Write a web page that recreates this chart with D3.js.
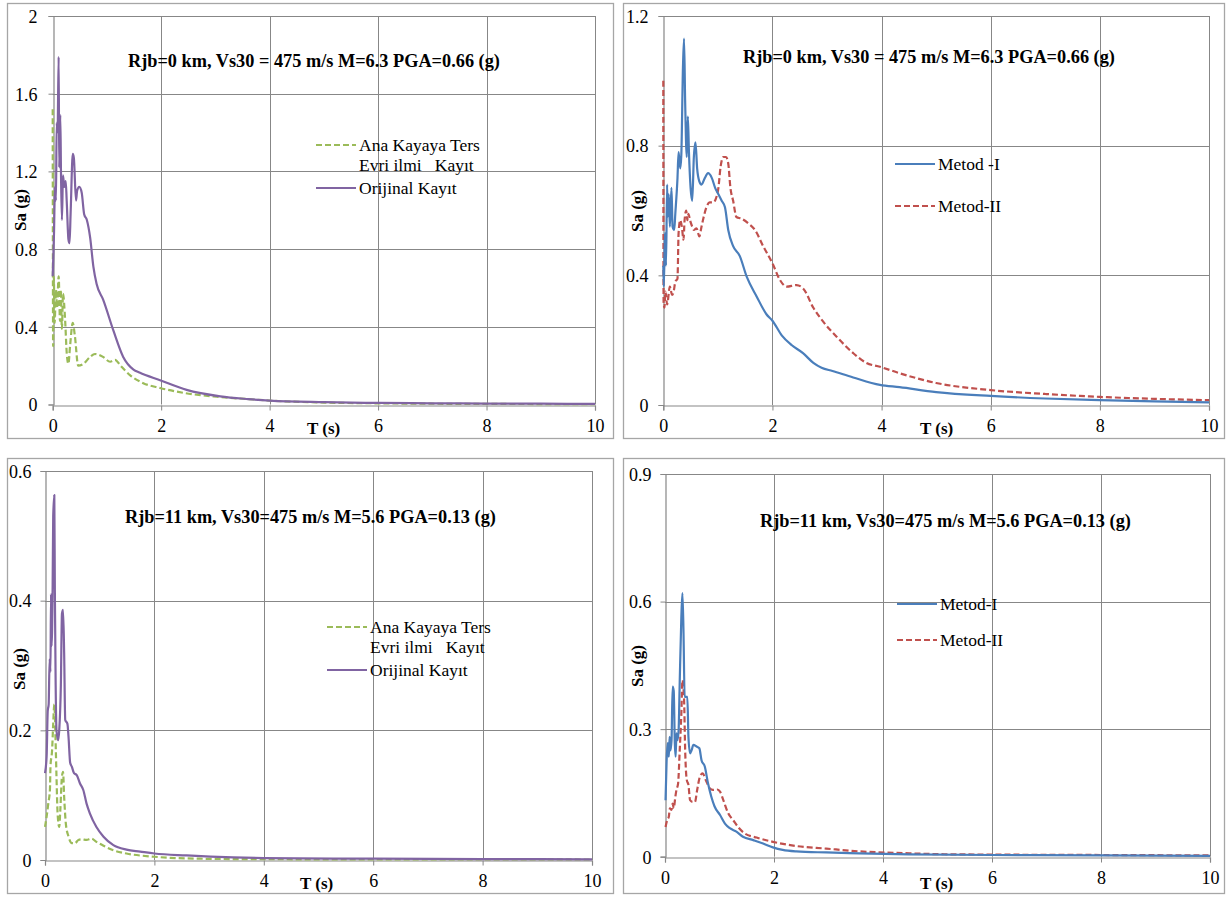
<!DOCTYPE html>
<html>
<head>
<meta charset="utf-8">
<script src="https://cdn.jsdelivr.net/npm/d3@7"></script>
<style>
  html, body { margin: 0; padding: 0; background: #fff; }
  svg { display: block; }
  svg text { font-family: "Liberation Serif", "Times New Roman", serif; }
</style>
</head>
<body>
<svg id="chart" width="1226" height="898"></svg>
<script>
const SERIF = "'Liberation Serif', 'Times New Roman', serif";

// Period axis ticks (s), shared by all four spectra
const periodTicks = [0, 2, 4, 6, 8, 10];

// Sa axis ticks (g) for each panel
const saTicksTopLeft = [0, 0.4, 0.8, 1.2, 1.6, 2];
const saTicksTopRight = [0, 0.4, 0.8, 1.2];
const saTicksBottomLeft = [0, 0.2, 0.4, 0.6];
const saTicksBottomRight = [0, 0.3, 0.6, 0.9];

// Panel titles
const titleNear = "Rjb=0 km, Vs30 = 475 m/s M=6.3 PGA=0.66 (g)";
const titleFar = "Rjb=11 km, Vs30=475 m/s M=5.6 PGA=0.13 (g)";

// Legend entries
const legendRecords = ["Ana Kayaya Ters|Evri ilmi   Kayıt", "Orijinal Kayıt"];
const legendMethodsNear = ["Metod -I", "Metod-II"];
const legendMethodsFar = ["Metod-I", "Metod-II"];

// Response spectra, [T (s), Sa (g)] — Rjb = 0 km event
const original0 = [[0,0.66],[0.024,0.88],[0.042,1.12],[0.06,1.05],[0.073,1.45],[0.09,1.40],[0.11,1.79],[0.12,1.22],[0.14,1.49],[0.153,1.19],[0.17,0.95],[0.19,1.18],[0.214,1.12],[0.24,1.15],[0.258,1.05],[0.29,0.85],[0.31,0.83],[0.33,0.98],[0.37,1.29],[0.39,1.27],[0.43,1.05],[0.45,1.10],[0.49,1.12],[0.535,1.09],[0.58,0.98],[0.63,0.95],[0.69,0.86],[0.75,0.71],[0.81,0.62],[0.93,0.54],[1.12,0.38],[1.30,0.245],[1.49,0.18],[1.6,0.165],[1.98,0.125],[2.47,0.075],[3.09,0.042],[3.6,0.028],[4,0.02],[5,0.012],[6,0.008],[7,0.006],[8,0.005],[9,0.004],[10,0.003]];
const deconvolved0 = [[0,1.52],[0.008,0.30],[0.02,0.66],[0.035,0.42],[0.06,0.59],[0.08,0.50],[0.11,0.66],[0.135,0.43],[0.15,0.59],[0.17,0.39],[0.19,0.57],[0.23,0.43],[0.26,0.26],[0.29,0.21],[0.32,0.30],[0.37,0.42],[0.41,0.35],[0.47,0.20],[0.57,0.21],[0.69,0.245],[0.78,0.26],[0.93,0.245],[1.06,0.22],[1.15,0.23],[1.25,0.20],[1.43,0.15],[1.67,0.11],[1.98,0.085],[2.41,0.06],[3.02,0.04],[3.6,0.028],[4,0.02],[5,0.01],[6,0.006],[7,0.004],[8,0.003],[10,0.002]];
const methodI0 = [[0,0.43],[0.01,0.365],[0.03,0.53],[0.05,0.43],[0.07,0.68],[0.08,0.58],[0.10,0.65],[0.12,0.55],[0.15,0.67],[0.17,0.55],[0.20,0.54],[0.22,0.59],[0.26,0.70],[0.28,0.78],[0.31,0.73],[0.33,0.77],[0.36,1.04],[0.38,1.13],[0.40,0.94],[0.43,0.765],[0.45,0.89],[0.47,0.78],[0.50,0.67],[0.53,0.63],[0.56,0.765],[0.59,0.81],[0.62,0.73],[0.66,0.69],[0.70,0.68],[0.76,0.70],[0.82,0.715],[0.89,0.70],[0.95,0.67],[1.01,0.65],[1.07,0.63],[1.13,0.61],[1.19,0.54],[1.28,0.49],[1.40,0.46],[1.53,0.395],[1.71,0.335],[1.89,0.28],[2.0,0.26],[2.17,0.215],[2.35,0.185],[2.56,0.16],[2.75,0.13],[2.90,0.115],[3.1,0.105],[3.48,0.085],[3.97,0.062],[4.33,0.055],[5,0.04],[6,0.028],[7,0.02],[8,0.015],[9,0.011],[10,0.008]];
const methodII0 = [[0,1.0],[0.005,0.32],[0.02,0.30],[0.04,0.35],[0.07,0.31],[0.12,0.365],[0.16,0.34],[0.19,0.35],[0.22,0.38],[0.26,0.39],[0.28,0.53],[0.31,0.57],[0.34,0.55],[0.37,0.51],[0.39,0.57],[0.42,0.60],[0.44,0.57],[0.46,0.59],[0.49,0.57],[0.53,0.55],[0.56,0.54],[0.61,0.545],[0.66,0.52],[0.70,0.55],[0.74,0.58],[0.79,0.61],[0.85,0.625],[0.92,0.625],[0.96,0.635],[1.01,0.67],[1.05,0.735],[1.10,0.765],[1.15,0.765],[1.19,0.745],[1.23,0.67],[1.28,0.63],[1.34,0.58],[1.43,0.575],[1.56,0.56],[1.68,0.54],[1.83,0.49],[2.0,0.437],[2.14,0.385],[2.26,0.365],[2.44,0.37],[2.56,0.36],[2.75,0.30],[2.93,0.257],[3.18,0.21],[3.48,0.16],[3.72,0.13],[3.97,0.118],[4.33,0.098],[5,0.068],[6,0.046],[7,0.034],[8,0.025],[9,0.019],[10,0.015]];

// Response spectra, [T (s), Sa (g)] — Rjb = 11 km event
const original11 = [[0,0.134],[0.03,0.16],[0.05,0.23],[0.067,0.24],[0.085,0.31],[0.10,0.29],[0.11,0.41],[0.12,0.33],[0.14,0.425],[0.15,0.53],[0.17,0.563],[0.18,0.416],[0.195,0.27],[0.21,0.20],[0.24,0.185],[0.26,0.20],[0.29,0.27],[0.31,0.38],[0.33,0.386],[0.35,0.32],[0.37,0.216],[0.41,0.21],[0.43,0.19],[0.46,0.15],[0.49,0.144],[0.53,0.134],[0.58,0.131],[0.64,0.118],[0.70,0.108],[0.76,0.087],[0.82,0.072],[0.94,0.051],[1.07,0.036],[1.25,0.023],[1.49,0.016],[1.74,0.013],[2.0,0.010],[2.59,0.007],[3.44,0.004],[4,0.003],[6,0.002],[8,0.0015],[10,0.001]];
const deconvolved11 = [[0,0.051],[0.03,0.067],[0.06,0.087],[0.09,0.108],[0.10,0.144],[0.13,0.17],[0.15,0.21],[0.17,0.24],[0.19,0.195],[0.21,0.129],[0.23,0.072],[0.26,0.051],[0.28,0.077],[0.31,0.129],[0.33,0.136],[0.35,0.098],[0.38,0.057],[0.43,0.036],[0.49,0.026],[0.55,0.026],[0.61,0.031],[0.67,0.032],[0.76,0.031],[0.85,0.033],[0.94,0.028],[1.07,0.022],[1.25,0.015],[1.49,0.010],[2.0,0.005],[2.83,0.002],[4,0.0012],[6,0.001],[10,0.0008]];
const methodI11 = [[0.01,0.133],[0.03,0.227],[0.05,0.267],[0.07,0.235],[0.085,0.282],[0.10,0.25],[0.12,0.274],[0.14,0.40],[0.16,0.39],[0.18,0.267],[0.195,0.235],[0.21,0.29],[0.23,0.274],[0.25,0.298],[0.27,0.41],[0.30,0.564],[0.32,0.62],[0.34,0.525],[0.36,0.376],[0.38,0.376],[0.41,0.376],[0.43,0.282],[0.46,0.243],[0.49,0.251],[0.52,0.263],[0.58,0.259],[0.63,0.255],[0.67,0.227],[0.73,0.212],[0.79,0.172],[0.85,0.141],[0.91,0.118],[1.01,0.098],[1.10,0.078],[1.19,0.067],[1.31,0.059],[1.43,0.047],[1.62,0.039],[1.80,0.031],[1.98,0.022],[2.16,0.016],[2.41,0.0125],[2.96,0.010],[3.57,0.008],[4.48,0.0055],[6,0.004],[8,0.003],[10,0.002]];
const methodII11 = [[0.01,0.07],[0.04,0.086],[0.07,0.094],[0.09,0.114],[0.12,0.11],[0.14,0.125],[0.16,0.114],[0.19,0.141],[0.21,0.157],[0.24,0.172],[0.27,0.25],[0.30,0.337],[0.32,0.415],[0.35,0.368],[0.37,0.25],[0.40,0.18],[0.43,0.169],[0.46,0.133],[0.51,0.129],[0.55,0.129],[0.59,0.157],[0.64,0.188],[0.69,0.196],[0.75,0.18],[0.82,0.161],[0.88,0.157],[0.96,0.158],[1.01,0.153],[1.07,0.133],[1.16,0.102],[1.25,0.086],[1.34,0.07],[1.46,0.055],[1.68,0.045],[1.98,0.035],[2.41,0.025],[2.96,0.019],[3.57,0.0125],[4.48,0.008],[5,0.006],[6,0.005],[8,0.004],[10,0.003]];

// Series styles
const styleDeconvolved = { color: "#9bbb59", dash: "6,3" };
const styleOriginal = { color: "#8064a2", dash: null };
const styleMethodI = { color: "#4a7ebb", dash: null };
const styleMethodII = { color: "#c0504d", dash: "6,3" };

const GRID = "#878787";
const FRAME = "#a6a6a6";

const panels = [
  {
    frame: [7, 3, 606, 435], plot: { x0: 52.7, x1: 595, y0: 404.5, y1: 16 },
    yMax: 2, yTicks: saTicksTopLeft, yLabelGap: 16,
    title: titleNear, titleX: 128, titleY: 67,
    saLabel: [20, 210], tLabel: [307, 434],
    series: [
      { data: deconvolved0, style: styleDeconvolved },
      { data: original0, style: styleOriginal }
    ],
    legend: { x: 316, rows: [
      { label: legendRecords[0], style: styleDeconvolved, y: 145 },
      { label: legendRecords[1], style: styleOriginal, y: 188 }
    ] }
  },
  {
    frame: [623, 3, 601, 435], plot: { x0: 663.3, x1: 1209, y0: 405, y1: 16 },
    yMax: 1.2, yTicks: saTicksTopRight, yLabelGap: 15,
    title: titleNear, titleX: 743, titleY: 63,
    saLabel: [637, 211], tLabel: [920, 434],
    series: [
      { data: methodII0, style: styleMethodII },
      { data: methodI0, style: styleMethodI }
    ],
    legend: { x: 895, rows: [
      { label: legendMethodsNear[0], style: styleMethodI, y: 164 },
      { label: legendMethodsNear[1], style: styleMethodII, y: 206 }
    ] }
  },
  {
    frame: [7, 458, 606, 435], plot: { x0: 45, x1: 592, y0: 860, y1: 471 },
    yMax: 0.6, yTicks: saTicksBottomLeft, yLabelGap: 14,
    title: titleFar, titleX: 125, titleY: 523,
    saLabel: [19, 669], tLabel: [300, 889],
    series: [
      { data: deconvolved11, style: styleDeconvolved },
      { data: original11, style: styleOriginal }
    ],
    legend: { x: 327, rows: [
      { label: legendRecords[0], style: styleDeconvolved, y: 627 },
      { label: legendRecords[1], style: styleOriginal, y: 670 }
    ] }
  },
  {
    frame: [623, 458, 601, 435], plot: { x0: 665, x1: 1210, y0: 856.7, y1: 474 },
    yMax: 0.9, yTicks: saTicksBottomRight, yLabelGap: 14,
    title: titleFar, titleX: 760, titleY: 527,
    saLabel: [637, 666], tLabel: [920, 889],
    series: [
      { data: methodII11, style: styleMethodII },
      { data: methodI11, style: styleMethodI }
    ],
    legend: { x: 897, rows: [
      { label: legendMethodsFar[0], style: styleMethodI, y: 604 },
      { label: legendMethodsFar[1], style: styleMethodII, y: 640 }
    ] }
  }
];

const svg = d3.select("#chart");

function drawPanel(p) {
  const g = svg.append("g").attr("font-family", SERIF);
  const [fx, fy, fw, fh] = p.frame;

  g.append("rect")
    .attr("x", fx + 0.5).attr("y", fy + 0.5)
    .attr("width", fw).attr("height", fh)
    .attr("fill", "#fff").attr("stroke", FRAME).attr("stroke-width", 1.3);

  const x = d3.scaleLinear().domain([0, 10]).range([p.plot.x0, p.plot.x1]);
  const y = d3.scaleLinear().domain([0, p.yMax]).range([p.plot.y0, p.plot.y1]);

  // Gridlines
  g.append("g").selectAll("line").data(p.yTicks.filter(d => d > 0)).join("line")
    .attr("x1", x(0)).attr("x2", x(10))
    .attr("y1", d => Math.round(y(d)) + 0.5).attr("y2", d => Math.round(y(d)) + 0.5)
    .attr("stroke", GRID).attr("stroke-width", 1);
  g.append("g").selectAll("line").data(periodTicks.filter(d => d > 0)).join("line")
    .attr("x1", d => Math.round(x(d)) + 0.5).attr("x2", d => Math.round(x(d)) + 0.5)
    .attr("y1", y(0)).attr("y2", y(p.yMax))
    .attr("stroke", GRID).attr("stroke-width", 1);

  // Axes
  const xAxis = d3.axisBottom(x).tickValues(periodTicks).tickSize(5).tickPadding(9).tickFormat(d3.format("d"));
  const yAxis = d3.axisLeft(y).tickValues(p.yTicks).tickSize(5).tickPadding(p.yLabelGap - 5).tickFormat(d => String(d));

  const gx = g.append("g").attr("transform", `translate(0,${Math.round(y(0)) + 0.5})`).call(xAxis);
  const gy = g.append("g").attr("transform", `translate(${Math.round(x(0)) + 0.5},0)`).call(yAxis);
  [gx, gy].forEach(ax => {
    ax.attr("font-family", SERIF).attr("font-size", 18);
    ax.select(".domain").attr("stroke", GRID).attr("stroke-width", 1.2);
    ax.selectAll(".tick line").attr("stroke", GRID);
    ax.selectAll(".tick text")
      .attr("fill", "#000")
      .style("font-family", SERIF)
      .style("font-size", "18px");
  });
  gy.selectAll(".tick text").attr("dy", "0.35em");

  // Spectra
  const line = d3.line().x(d => x(d[0])).y(d => y(d[1])).curve(d3.curveMonotoneX);
  p.series.forEach(s => {
    g.append("path").datum(s.data)
      .attr("d", line)
      .attr("fill", "none")
      .attr("stroke", s.style.color)
      .attr("stroke-width", 2.2)
      .attr("stroke-linejoin", "round")
      .attr("stroke-dasharray", s.style.dash);
  });

  // Title
  g.append("text")
    .attr("x", p.titleX).attr("y", p.titleY)
    .style("font-family", SERIF)
    .style("font-size", "18.3px").style("font-weight", "bold")
    .text(p.title);

  // Axis titles
  g.append("text")
    .attr("transform", `translate(${p.saLabel[0]},${p.saLabel[1]}) rotate(-90)`)
    .attr("text-anchor", "middle").attr("dy", "0.35em")
    .style("font-family", SERIF)
    .style("font-size", "17px").style("font-weight", "bold")
    .text("Sa (g)");
  g.append("text")
    .attr("x", p.tLabel[0]).attr("y", p.tLabel[1])
    .style("font-family", SERIF)
    .style("font-size", "17px").style("font-weight", "bold")
    .text("T (s)");

  // Legend
  const lg = g.append("g");
  p.legend.rows.forEach(r => {
    lg.append("line")
      .attr("x1", p.legend.x).attr("x2", p.legend.x + 40)
      .attr("y1", r.y).attr("y2", r.y)
      .attr("stroke", r.style.color).attr("stroke-width", 2.2)
      .attr("stroke-dasharray", r.style.dash);
    const lines = r.label.split("|");
    const t = lg.append("text")
      .attr("x", p.legend.x + 43).attr("y", r.y + 6)
      .style("font-family", SERIF)
      .style("font-size", "17.5px").style("white-space", "pre");
    lines.forEach((ln, i) => {
      t.append("tspan").attr("x", p.legend.x + 43).attr("dy", i === 0 ? 0 : 20).text(ln);
    });
  });
}

panels.forEach(drawPanel);
</script>
</body>
</html>
